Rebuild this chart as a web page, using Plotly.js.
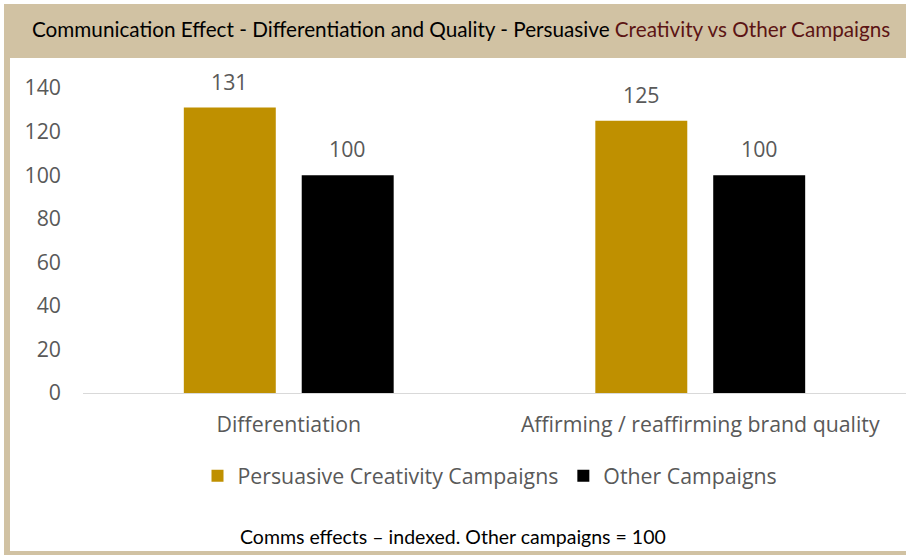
<!DOCTYPE html>
<html>
<head>
<meta charset="utf-8">
<script src="https://cdn.plot.ly/plotly-3.0.1.min.js"></script>
<style>
  html, body { margin: 0; padding: 0; background: #ffffff; }
  #chart { width: 906px; height: 555px; }
</style>
</head>
<body>
<div id="chart"></div>
<script>
const categories = ["Differentiation", "Affirming / reaffirming brand quality"];
const persuasiveValues = [131, 125];
const otherValues = [100, 100];
const seriesNames = ["Persuasive Creativity Campaigns", "Other Campaigns"];
const yTickValues = [0, 20, 40, 60, 80, 100, 120, 140];

const W = 906, H = 555;
const M = { l: 83, r: 0, t: 88, b: 162 };
const pw = W - M.l - M.r, ph = H - M.t - M.b;
const px = x => (x - M.l) / pw;
const py = y => (H - M.b - y) / ph;

const TFONT = "Lato, 'Noto Sans', sans-serif";
const GFONT = "'Open Sans', 'Noto Sans', sans-serif";
const GSIZE = 21.3;
const GRAY = "#595959";
const TAN = "#D1C2A3";

const BARGAP = 0.427, GROUPGAP = 0.22;

const traces = [
  { type: "bar", name: seriesNames[0], x: categories, y: persuasiveValues,
    marker: { color: "#BF9000" }, hoverinfo: "none" },
  { type: "bar", name: seriesNames[1], x: categories, y: otherValues,
    marker: { color: "#000000" }, hoverinfo: "none" }
];

// data labels placed on the category axis, offset to each bar's slot in the group
const catWidthPx = pw / categories.length;
const slotPx = catWidthPx * (1 - BARGAP) / 2;
const valueLabels = [];
[persuasiveValues, otherValues].forEach((vals, si) => {
  vals.forEach((v, ci) => {
    valueLabels.push({
      xref: "x", yref: "y", x: categories[ci], y: v,
      xshift: (si - 0.5) * slotPx, yshift: 10,
      yanchor: "bottom", xanchor: "center", showarrow: false,
      text: String(v), font: { family: GFONT, size: GSIZE, color: GRAY }
    });
  });
});

const layout = {
  width: W, height: H,
  margin: M,
  paper_bgcolor: "#ffffff", plot_bgcolor: "#ffffff",
  font: { family: GFONT, size: GSIZE, color: GRAY },
  barmode: "group", bargap: BARGAP, bargroupgap: GROUPGAP,
  showlegend: true,
  legend: {
    orientation: "h", x: px(490), xanchor: "center", y: py(476), yanchor: "middle",
    font: { family: GFONT, size: GSIZE, color: GRAY },
    itemwidth: 30, traceorder: "normal"
  },
  xaxis: {
    type: "category", showgrid: false, zeroline: false,
    showline: true, linecolor: "#D9D9D9", linewidth: 1,
    ticks: "", ticklabelstandoff: 12,
    tickfont: { family: GFONT, size: GSIZE, color: GRAY }
  },
  yaxis: {
    range: [0, 140], tickvals: yTickValues, showgrid: false, zeroline: false,
    showline: false, ticks: "", ticklabelstandoff: 21,
    tickfont: { family: GFONT, size: GSIZE, color: GRAY }
  },
  shapes: [
    { type: "rect", xref: "paper", yref: "paper", x0: px(4), x1: px(906), y0: py(58), y1: py(4),
      fillcolor: TAN, line: { width: 0 }, layer: "below" },
    { type: "rect", xref: "paper", yref: "paper", x0: px(4), x1: px(10), y0: py(555), y1: py(58),
      fillcolor: TAN, line: { width: 0 }, layer: "below" },
    { type: "rect", xref: "paper", yref: "paper", x0: px(4), x1: px(906), y0: py(555), y1: py(551),
      fillcolor: TAN, line: { width: 0 }, layer: "below" }
  ],
  annotations: [
    { xref: "paper", yref: "paper", x: px(461), y: py(29), xanchor: "center", yanchor: "middle",
      showarrow: false, font: { family: TFONT, size: 20.7, color: "#000000" },
      text: 'Communication Effect - Differentiation and Quality - Persuasive <span style="color:#5C1414">Creativity vs Other Campaigns</span>' },
    { xref: "paper", yref: "paper", x: px(453), y: py(536), xanchor: "center", yanchor: "middle",
      showarrow: false, font: { family: TFONT, size: 19.5, color: "#000000" },
      text: "Comms effects \u2013 indexed. Other campaigns = 100" }
  ].concat(valueLabels)
};

Plotly.newPlot("chart", traces, layout, { staticPlot: true, displayModeBar: false });
</script>
</body>
</html>
